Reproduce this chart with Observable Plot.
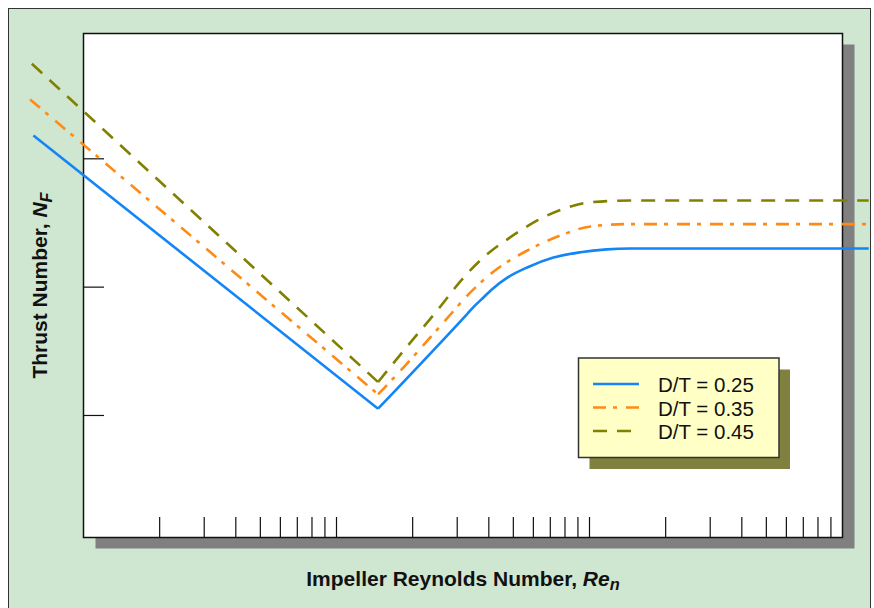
<!DOCTYPE html>
<html>
<head>
<meta charset="utf-8">
<script src="https://cdn.jsdelivr.net/npm/d3@7"></script>
<script src="https://cdn.jsdelivr.net/npm/@observablehq/plot@0.6"></script>
<style>
  html, body { margin: 0; padding: 0; background: #fff; }
  #wrap { position: relative; width: 874px; height: 608px; overflow: hidden; font-family: "Liberation Sans", Arial, Helvetica, sans-serif; }
  #panel { position: absolute; left: 8px; top: 8px; width: 863px; height: 620px; box-sizing: border-box;
           background: #cfe6d0; border: 1.5px solid #333; }
  #chart { position: absolute; left: 0; top: 0; }
</style>
</head>
<body>
<div id="wrap"><div id="panel"></div><div id="chart"></div></div>
<script>
// ---- data (Re on log x, N_F on log y) ----
const seriesNames = ["D/T = 0.25", "D/T = 0.35", "D/T = 0.45"];
const re025 = [0.634, 14.6, 32.9, 35.0, 38.2, 41.0, 47.5, 57.0, 72.0, 92.0, 117, 145, 1270];
const nf025 = [1.52, 0.0113, 0.062, 0.0708, 0.0835, 0.0955, 0.119, 0.143, 0.170, 0.187, 0.197, 0.2, 0.2];
const re035 = [0.615, 14.6, 18.45, 26.2, 33.9, 43.2, 56.8, 76.9, 101, 145, 1270];
const nf035 = [2.90, 0.0146, 0.0238, 0.0518, 0.0914, 0.139, 0.193, 0.253, 0.297, 0.31, 0.31];
const re045 = [0.625, 14.6, 18.45, 25.0, 31.9, 38.2, 48.7, 62.2, 79.2, 101, 145, 1270];
const nf045 = [5.50, 0.0182, 0.0321, 0.0658, 0.1196, 0.171, 0.245, 0.331, 0.408, 0.459, 0.473, 0.473];
const minIndex = 1; // position of the V-shaped minimum in each series
const xTicks = [2,3,4,5,6,7,8,9,10,20,30,40,50,60,70,80,90,100,200,300,400,500,600,700,800,900];
const yTicks = [0.01, 0.1, 1];
const xDomain = [1, 1000];
const yDomain = [0.00112, 9.47];
const xLabel = ["Impeller Reynolds Number, ", "Re", "n"];
const yLabel = ["Thrust Number, ", "N", "F"];

const colors = ["#1385f7", "#ff8a14", "#828000"];
const dashes = [null, "13,7,4,9", "14,10"];

const toRows = (xs, ys) => xs.map((x, i) => ({re: x, nf: ys[i]}));
const series = [toRows(re025, nf025), toRows(re035, nf035), toRows(re045, nf045)];

const W = 874, H = 608, mL = 83, mR = 32, mT = 33, mB = 71;
const fw = W - mL - mR, fh = H - mT - mB;
const font = `"Liberation Sans", Arial, Helvetica, sans-serif`;

const lineMarks = series.flatMap((rows, i) => {
  const common = {x: "re", y: "nf", stroke: colors[i], strokeWidth: 2.6,
    strokeDasharray: dashes[i], strokeLinejoin: "miter", strokeLinecap: "butt"};
  return [
    Plot.line(rows.slice(0, minIndex + 1), {...common, curve: "linear"}),
    Plot.line(rows.slice(minIndex), {...common, curve: "monotone-x"})
  ];
});

const chart = Plot.plot({
  width: W, height: H,
  marginLeft: mL, marginRight: mR, marginTop: mT, marginBottom: mB,
  style: {background: "transparent", overflow: "visible", fontFamily: font},
  x: {type: "log", domain: xDomain, axis: null},
  y: {type: "log", domain: yDomain, axis: null},
  marks: [
    Plot.frame({fill: "#808080", dx: 12, dy: 11}),
    Plot.frame({fill: "white", stroke: "#111", strokeWidth: 1.5}),
    Plot.ruleX(xTicks, {x: d => d, stroke: "#111", strokeWidth: 1.2, insetTop: fh - 20}),
    Plot.ruleY(yTicks, {y: d => d, stroke: "#111", strokeWidth: 1.2, insetRight: fw - 21}),
    ...lineMarks,
    Plot.text([xLabel.join("")], {frameAnchor: "bottom", dy: 48, fontSize: 21, fontWeight: "bold", fill: "#111", textAnchor: "middle", text: d => d}),
    Plot.text([yLabel.join("")], {frameAnchor: "left", dx: -43, rotate: -90, fontSize: 21, fontWeight: "bold", fill: "#111", textAnchor: "middle", text: d => d})
  ]
});
document.getElementById("chart").appendChild(chart);

// styled labels with italic symbol + subscript (still real text)
const svg = d3.select(chart);
function restyle(parts) {
  svg.selectAll("text").filter(function() { return this.textContent === parts.join(""); }).each(function() {
    const t = d3.select(this);
    t.text(null);
    t.append("tspan").text(parts[0]);
    t.append("tspan").attr("font-style", "italic").text(parts[1]);
    t.append("tspan").attr("font-style", "italic").attr("font-size", "0.78em").attr("dy", "0.3em").text(parts[2]);
  });
}
restyle(xLabel);
restyle(yLabel);

// legend
const lg = svg.append("g").attr("font-family", font).attr("text-anchor", "start");
const lx = 578.5, ly = 358, lw = 200.5, lh = 99.5;
lg.append("rect").attr("x", lx + 11).attr("y", ly + 11.5).attr("width", lw).attr("height", lh).attr("fill", "#80803f");
lg.append("rect").attr("x", lx).attr("y", ly).attr("width", lw).attr("height", lh).attr("fill", "#ffffc6").attr("stroke", "#333").attr("stroke-width", 1.5);
seriesNames.forEach((name, i) => {
  const yy = 384 + i * 23.5;
  lg.append("line").attr("x1", 593).attr("x2", 639).attr("y1", yy).attr("y2", yy)
    .attr("stroke", colors[i]).attr("stroke-width", 2.6).attr("stroke-dasharray", dashes[i]);
  lg.append("text").attr("x", 658).attr("y", yy + 8).attr("font-size", 20.5).attr("fill", "#111")
    .attr("text-anchor", "start").text(name);
});
</script>
</body>
</html>
